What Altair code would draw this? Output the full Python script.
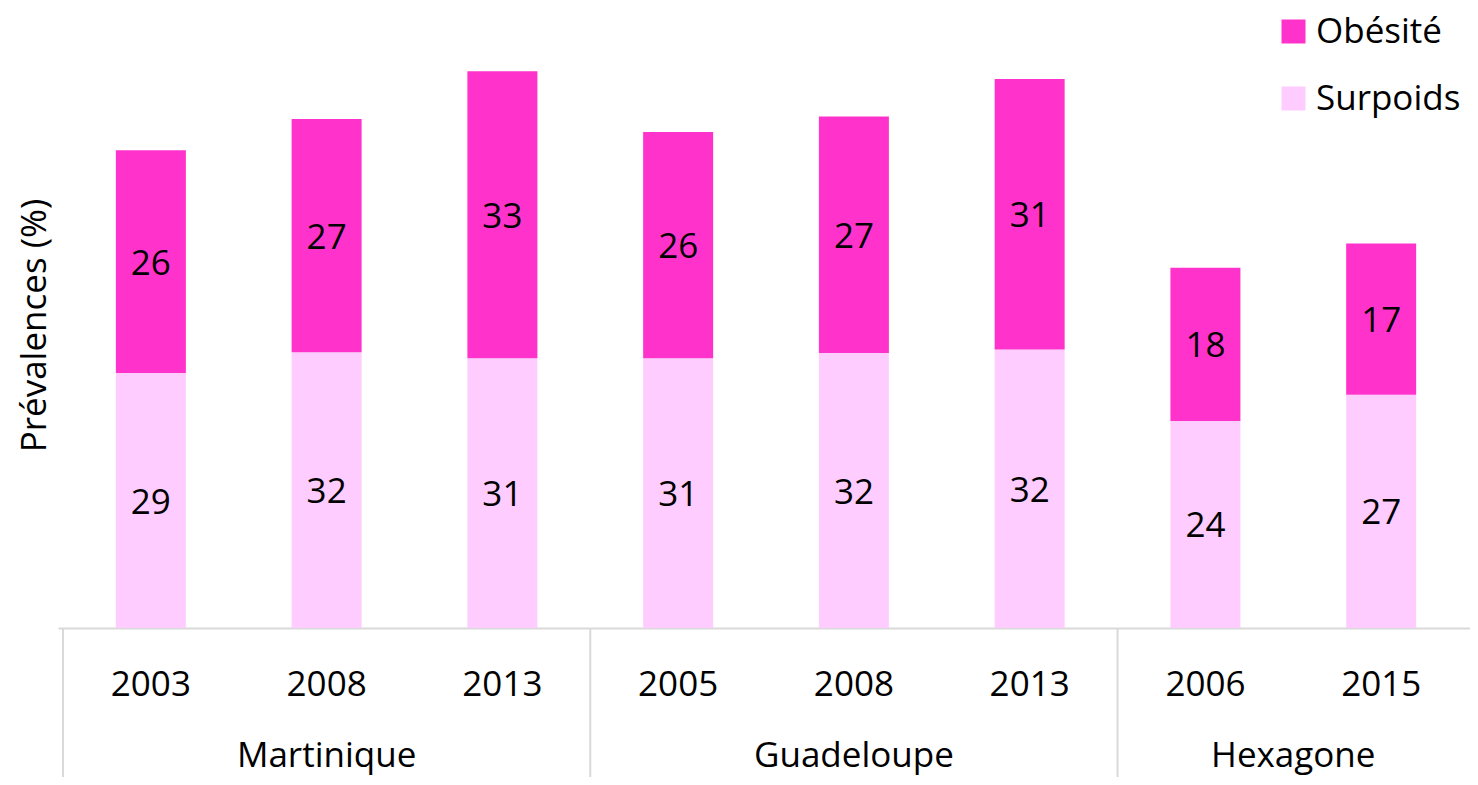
import altair as alt
import pandas as pd

FONT = "Open Sans"
FS = 35

regions = ["Martinique", "Martinique", "Martinique",
           "Guadeloupe", "Guadeloupe", "Guadeloupe",
           "Hexagone", "Hexagone"]
years = ["2003", "2008", "2013", "2005", "2008", "2013", "2006", "2015"]
surpoids = [29.3, 31.7, 31.0, 31.0, 31.6, 32.0, 23.8, 26.8]
obesite = [25.6, 26.8, 33.0, 26.0, 27.2, 31.1, 17.6, 17.4]
series = ["Surpoids", "Obésité"]

rows = []
for i, (reg, yr) in enumerate(zip(regions, years)):
    for k, (name, vals) in enumerate(zip(series, [surpoids, obesite])):
        rows.append({"key": i, "pos": i + 0.5, "region": reg, "year": yr,
                     "serie": name, "ord": k, "value": vals[i]})
df = pd.DataFrame(rows)

xscale = alt.Scale(domain=[0, 7.977], nice=False, zero=False)
xaxis = alt.Axis(labels=False, ticks=False, grid=False, title=None,
                 domainColor="#D9D9D9", domainWidth=2)

base = alt.Chart(df).transform_stack(
    stack="value", groupby=["key"], as_=["y0", "y1"],
    sort=[alt.SortField("ord", order="ascending")]
).transform_calculate(mid="(datum.y0 + datum.y1) / 2")

bars = base.mark_bar(size=70).encode(
    x=alt.X("pos:Q", scale=xscale, axis=xaxis),
    y=alt.Y("y0:Q", scale=alt.Scale(domain=[0, 70], nice=False),
            axis=alt.Axis(labels=False, ticks=False, domain=False, grid=False,
                          title="Prévalences (%)", titleFont=FONT,
                          titleFontSize=FS, titleFontWeight="normal",
                          titleColor="black", titleAngle=270, titleX=-24,
                          titleY=306, titleAlign="center",
                          titleBaseline="middle")),
    y2="y1:Q",
    color=alt.Color("serie:N",
                    scale=alt.Scale(domain=["Obésité", "Surpoids"],
                                    range=["#FF33CC", "#FFCCFF"]),
                    legend=alt.Legend(title=None, orient="none",
                                      legendX=1218, legendY=-5,
                                      symbolType="square", symbolSize=576,
                                      symbolStrokeWidth=0, labelFont=FONT,
                                      labelFontSize=FS, labelColor="black",
                                      labelOffset=5, rowPadding=31,
                                      labelLimit=400, padding=0)),
)

labels = base.mark_text(font=FONT, fontSize=FS, color="black",
                        baseline="middle", dy=2).encode(
    x=alt.X("pos:Q", scale=xscale),
    y=alt.Y("mid:Q"),
    text=alt.Text("value:Q", format=".0f"),
)

year_text = alt.Chart(df).transform_filter("datum.ord == 0").mark_text(
    font=FONT, fontSize=FS, color="black", baseline="middle"
).encode(
    x=alt.X("pos:Q", scale=xscale),
    y=alt.value(666),
    text="year:N",
)

region_text = alt.Chart(df).transform_filter("datum.ord == 0").transform_aggregate(
    cx="mean(pos)", groupby=["region"]
).mark_text(font=FONT, fontSize=FS, color="black", baseline="middle").encode(
    x=alt.X("cx:Q", scale=xscale),
    y=alt.value(737),
    text="region:N",
)

separators = alt.Chart(df).transform_filter("datum.ord == 0").transform_aggregate(
    lo="min(pos)", groupby=["region"]
).transform_calculate(start="datum.lo - 0.5").mark_rule(
    color="#D9D9D9", strokeWidth=2
).encode(
    x=alt.X("start:Q", scale=xscale),
    y=alt.value(609),
    y2=alt.value(800),
)

chart = alt.layer(bars, labels, year_text, region_text, separators).properties(
    width=1412, height=609,
    autosize=alt.AutoSizeParams(type="none"),
    padding={"left": 50, "top": 11, "right": 0, "bottom": 149},
).configure_view(stroke=None)

chart.save("out.html", embed_options={"renderer": "svg", "actions": False})
